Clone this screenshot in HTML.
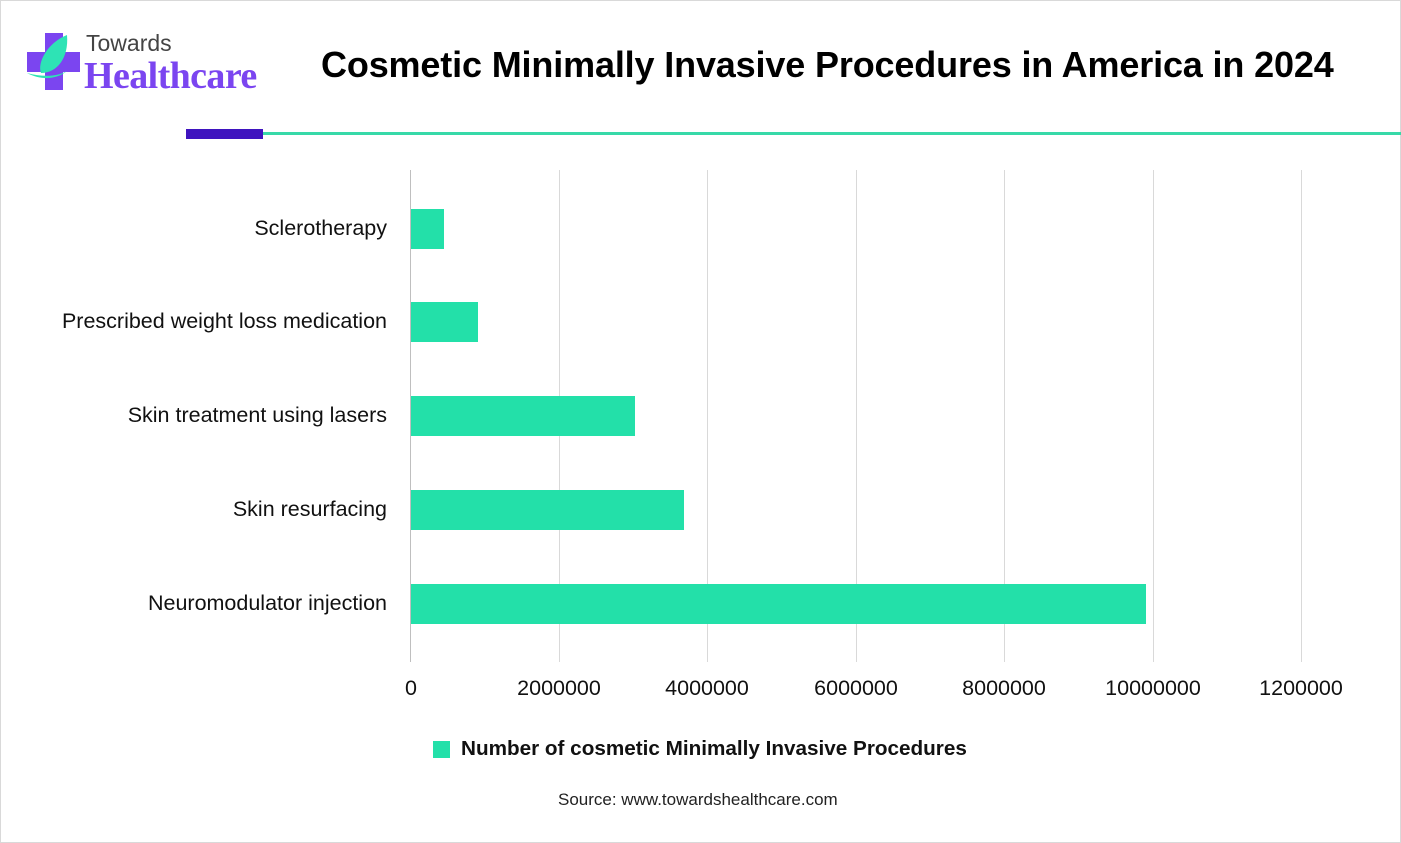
<!DOCTYPE html>
<html><head><meta charset="utf-8"><style>
body{margin:0;width:1401px;height:843px;background:#fff;position:relative;overflow:hidden;font-family:"Liberation Sans",sans-serif;}
.frame{position:absolute;left:0;top:0;width:1399px;height:841px;border:1px solid #d9d9d9;}
.t{position:absolute;white-space:nowrap;}
.grid{position:absolute;top:170px;height:492px;width:1px;background:#d9d9d9;}
.bar{position:absolute;left:411px;height:40px;background:#23e0a9;}
.lab{position:absolute;right:1014px;font-size:21.5px;color:#111;white-space:nowrap;}
.tick{position:absolute;top:676px;font-size:21.5px;color:#111;transform:translateX(-50%);}
</style></head><body>
<div class="frame"></div>
<svg style="position:absolute;left:27px;top:33px" width="56" height="58" viewBox="0 0 56 58">
<rect x="0" y="19" width="53" height="20" fill="#7b45f0"/>
<rect x="18" y="0" width="18" height="57" fill="#7b45f0"/>
<path d="M40 2 C20 10 10 30 14 40 C30 40 42 25 40 2Z" fill="#2ee3b5"/>
<path d="M0 40 C15 48 30 46 40 38 C30 44 15 44 0 40Z" fill="#2ee3b5"/>
</svg>
<div class="t" style="left:86px;top:30px;font-size:23px;color:#444;">Towards</div>
<div class="t" style="left:84px;top:54px;font-size:38px;color:#7b45f0;font-family:'Liberation Serif',serif;font-weight:bold;letter-spacing:-0.6px;">Healthcare</div>
<div class="t" style="left:321px;top:44px;font-size:36px;font-weight:bold;color:#000;letter-spacing:-0.15px;">Cosmetic Minimally Invasive Procedures in America in 2024</div>
<div style="position:absolute;left:186px;top:129px;width:77px;height:10px;background:#3f14bf"></div>
<div style="position:absolute;left:263px;top:132px;width:1138px;height:3px;background:#37d9a8"></div>
<div class="grid" style="left:410px;background:#bfbfbf"></div>
<div class="grid" style="left:559px"></div>
<div class="grid" style="left:707px"></div>
<div class="grid" style="left:856px"></div>
<div class="grid" style="left:1004px"></div>
<div class="grid" style="left:1153px"></div>
<div class="grid" style="left:1301px"></div>
<div class="bar" style="top:209px;width:33px"></div>
<div class="bar" style="top:302px;width:67px"></div>
<div class="bar" style="top:396px;width:224px"></div>
<div class="bar" style="top:490px;width:273px"></div>
<div class="bar" style="top:584px;width:735px"></div>
<div class="lab" style="top:216px">Sclerotherapy</div>
<div class="lab" style="top:309px">Prescribed weight loss medication</div>
<div class="lab" style="top:403px">Skin treatment using lasers</div>
<div class="lab" style="top:497px">Skin resurfacing</div>
<div class="lab" style="top:591px">Neuromodulator injection</div>
<div class="tick" style="left:411px">0</div>
<div class="tick" style="left:559px">2000000</div>
<div class="tick" style="left:707px">4000000</div>
<div class="tick" style="left:856px">6000000</div>
<div class="tick" style="left:1004px">8000000</div>
<div class="tick" style="left:1153px">10000000</div>
<div class="tick" style="left:1301px">1200000</div>
<div style="position:absolute;left:433px;top:741px;width:17px;height:17px;background:#23e0a9"></div>
<div class="t" style="left:461px;top:737px;font-size:20.7px;font-weight:bold;color:#111;">Number of cosmetic Minimally Invasive Procedures</div>
<div class="t" style="left:558px;top:790px;font-size:17px;color:#222;">Source: www.towardshealthcare.com</div>
</body></html>
